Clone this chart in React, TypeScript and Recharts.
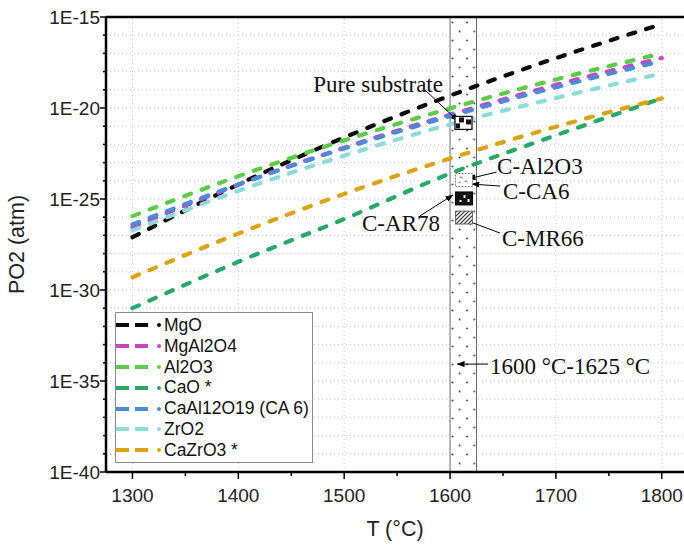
import React from 'react';
import {
  ComposedChart, Line, XAxis, YAxis, CartesianGrid, ReferenceLine, ReferenceArea, ReferenceDot, Legend,
} from 'recharts';

// temperatures (°C) and log10(PO2 / atm)
const temps = [1300, 1400, 1500, 1600, 1700, 1800];
const mgo = [-27.1, -24.2, -21.62, -19.32, -17.26, -15.39];
const mgal2o4 = [-26.55, -24.22, -22.18, -20.37, -18.73, -17.25];
const al2o3 = [-25.94, -23.75, -21.78, -20.02, -18.43, -17.0];
const cao = [-31.0, -28.45, -26.1, -23.6, -21.5, -19.47];
const ca6 = [-26.4, -24.2, -22.22, -20.45, -18.86, -17.42];
const zro2 = [-26.73, -24.55, -22.62, -20.9, -19.45, -18.1];
const cazro3 = [-29.3, -26.9, -24.72, -22.77, -21.03, -19.47];

const seriesNames = ['MgO', 'MgAl2O4', 'Al2O3', 'CaO *', 'CaAl12O19 (CA 6)', 'ZrO2', 'CaZrO3 *'];
const seriesValues = [mgo, mgal2o4, al2o3, cao, ca6, zro2, cazro3];
const seriesColors = ['#0a0a0a', '#c845c4', '#5ccc46', '#26a866', '#4a8ad8', '#8adcdc', '#dba214'];

const xTicks = [1300, 1350, 1400, 1450, 1500, 1550, 1600, 1650, 1700, 1750, 1800];
const xGrid = [1300, 1400, 1500, 1600, 1700, 1800];
const yTicks = Array.from({ length: 26 }, (_, i) => -40 + i);

// sample points inside the 1600-1625 °C window
const sampleT = [1612.7, 1613.2, 1613.2, 1613.2];
const sampleP = [-20.82, -23.96, -24.97, -26.02];
const sampleKinds = ['pure', 'al2o3', 'ar78', 'mr66'];

// annotation texts, anchored in data space
const noteText = ['Pure substrate', 'C-Al2O3', 'C-CA6', 'C-AR78', 'C-MR66', '1600 °C-1625 °C'];
const noteT = [1593.3, 1644.4, 1650.0, 1590.5, 1649.1, 1637.7];
const noteP = [-18.68, -23.2, -24.55, -26.32, -27.14, -34.18];
const noteAnchor = ['end', 'start', 'start', 'end', 'start', 'start'];

// leader lines: from [T, P] to [T, P] (arrow at the end)
const arrowFrom = [[1576.3, -19.01], [1644.0, -23.52], [1647.2, -24.29], [1571.6, -25.93], [1647.2, -26.87], [1635.9, -34.07]];
const arrowTo = [[1607.5, -20.71], [1616.9, -23.9], [1620.7, -24.18], [1602.8, -24.78], [1614.1, -26.15], [1606.6, -34.07]];

const data = temps.map((t, i) => {
  const row: any = { T: t };
  seriesNames.forEach((n, k) => { row[n] = seriesValues[k][i]; });
  return row;
});

const sans = '"Liberation Sans", Arial, sans-serif';
const serif = '"Liberation Serif", "Times New Roman", serif';

const XTick = (props: any) => {
  const { x, y, payload } = props;
  const major = payload.value % 100 === 0;
  return (
    <g>
      <line x1={x} y1={y} x2={x} y2={y + (major ? 7 : 4)} stroke="#000" strokeWidth={1.5} />
      {major && (
        <text x={x} y={y + 30} textAnchor="middle" fontSize={19} fontFamily={sans} fill="#222">{payload.value}</text>
      )}
    </g>
  );
};

const YTick = (props: any) => {
  const { x, y, payload } = props;
  const major = payload.value % 5 === 0;
  return (
    <g>
      <line x1={x - (major ? 6 : 3)} y1={y} x2={x} y2={y} stroke="#000" strokeWidth={1.5} />
      {major && (
        <text x={x - 6} y={y + 7} textAnchor="end" fontSize={19} fontFamily={sans} fill="#222">{`1E${payload.value}`}</text>
      )}
    </g>
  );
};

const SampleMarker = (props: any) => {
  const { cx, cy, kind } = props;
  const w = 17, h = 13;
  const x = cx - w / 2, y = cy - h / 2;
  if (kind === 'pure') {
    return (
      <g>
        <rect x={x} y={y} width={w} height={h} fill="#fff" stroke="#111" strokeWidth={1.3} />
        <rect x={x + 4} y={y + 1} width={5} height={5} fill="#111" />
        <rect x={x + 11} y={y + 3} width={5} height={5} fill="#111" />
        <rect x={x + 1} y={y + 7} width={4} height={5} fill="#111" />
      </g>
    );
  }
  if (kind === 'al2o3') {
    return (
      <g>
        <rect x={x} y={y} width={w} height={h} fill="#fff" stroke="#666" strokeWidth={0.8} strokeDasharray="2 1" />
        <path d={`M${x + 4},${y + 4} q2,-2 3,1 M${x + 9},${y + 8} q2,-2 3,1 M${x + 3},${y + 9} l2,0`} stroke="#555" strokeWidth={0.8} fill="none" />
      </g>
    );
  }
  if (kind === 'ar78') {
    return (
      <g>
        <rect x={x} y={y} width={w} height={h} fill="#111" stroke="#000" strokeWidth={1} />
        <rect x={x + 8} y={y + 3} width={2} height={3} fill="#fff" />
        <rect x={x + 12} y={y + 7} width={2} height={3} fill="#fff" />
        <rect x={x + 4} y={y + 8} width={2} height={2} fill="#fff" />
      </g>
    );
  }
  return (
    <g>
      <rect x={x} y={y} width={w} height={h} fill="url(#hatchPat)" stroke="#555" strokeWidth={0.8} />
    </g>
  );
};

const LegendBox = () => (
  <div style={{ border: '1px solid #8a8a8a', background: '#fff', padding: '2px 0 1px 0', width: 198, boxSizing: 'border-box' }}>
    {seriesNames.map((name, i) => (
      <div key={name} style={{ display: 'flex', alignItems: 'center', height: 20.8 }}>
        <svg width={48} height={12} style={{ flex: 'none' }}>
          <line x1={0} y1={6} x2={32} y2={6} stroke={seriesColors[i]} strokeWidth={4} strokeDasharray="13 6" />
          <circle cx={43} cy={6} r={2} fill={seriesColors[i]} />
        </svg>
        <span style={{ fontFamily: sans, fontSize: 17.5, color: '#111', whiteSpace: 'nowrap' }}>{name}</span>
      </div>
    ))}
  </div>
);

export default function App() {
  return (
    <div style={{ position: 'absolute', left: 0, top: 0, width: 684, height: 545, background: '#fff', overflow: 'hidden' }}>
      <ComposedChart width={684} height={545} data={data} margin={{ top: 17, right: 0, bottom: 0, left: 0 }}>
        <defs>
          <pattern id="dotsPat" width={14.5} height={18} patternUnits="userSpaceOnUse">
            <rect width={14.5} height={18} fill="#fff" />
            <circle cx={3} cy={4.5} r={0.9} fill="#333" />
            <circle cx={10.2} cy={13.5} r={0.9} fill="#333" />
          </pattern>
          <pattern id="hatchPat" width={4} height={4} patternUnits="userSpaceOnUse">
            <rect width={4} height={4} fill="#f2f2f2" />
            <path d="M-1,1 L1,-1 M0,4 L4,0 M3,5 L5,3" stroke="#333" strokeWidth={1.1} />
          </pattern>
          <marker id="arrowHead" markerWidth={8} markerHeight={6} refX={7.5} refY={3} orient="auto" markerUnits="userSpaceOnUse">
            <path d="M0,0 L8,3 L0,6 z" fill="#000" />
          </marker>
        </defs>
        <CartesianGrid vertical={false} stroke="#c4c4c4" strokeDasharray="1 3" />
        {xGrid.map((t) => (
          <ReferenceLine key={`g${t}`} x={t} stroke="#c4c4c4" strokeDasharray="1 3" />
        ))}
        <XAxis
          dataKey="T"
          type="number"
          domain={[1275, 1821]}
          allowDataOverflow
          ticks={xTicks}
          interval={0}
          tick={<XTick />}
          tickLine={false}
          tickSize={0}
          tickMargin={0}
          height={73}
          axisLine={{ stroke: '#000', strokeWidth: 2.5 }}
          label={{ value: 'T (°C)', position: 'insideBottom', offset: 9, style: { fontFamily: sans, fontSize: 21.5, fill: '#222' } }}
        />
        <YAxis
          type="number"
          domain={[-40, -15]}
          allowDataOverflow
          ticks={yTicks}
          interval={0}
          tick={<YTick />}
          tickLine={false}
          tickSize={0}
          tickMargin={0}
          width={106}
          axisLine={{ stroke: '#000', strokeWidth: 2.5 }}
          label={{ value: 'PO2 (atm)', angle: -90, position: 'insideLeft', offset: 16, style: { textAnchor: 'middle', fontFamily: sans, fontSize: 21.5, fill: '#222' } }}
        />
        <ReferenceArea x1={1600} x2={1625} fill="url(#dotsPat)" fillOpacity={1} stroke="#666" strokeWidth={1} />
        <ReferenceLine y={-15} stroke="#000" strokeWidth={2.5} />
        {seriesNames.map((n, i) => (
          <Line
            key={n}
            type="monotone"
            dataKey={n}
            stroke={seriesColors[i]}
            strokeWidth={4.2}
            strokeDasharray="7 11.5"
            strokeLinecap="round"
            dot={false}
            isAnimationActive={false}
          />
        ))}
        {sampleKinds.map((k, i) => (
          <ReferenceDot key={k} x={sampleT[i]} y={sampleP[i]} r={8} shape={(p: any) => <SampleMarker cx={p.cx} cy={p.cy} kind={k} />} />
        ))}
        {arrowFrom.map((a, i) => (
          <ReferenceLine
            key={`a${i}`}
            segment={[{ x: a[0], y: a[1] }, { x: arrowTo[i][0], y: arrowTo[i][1] }]}
            shape={(p: any) => (
              <line x1={p.x1} y1={p.y1} x2={p.x2} y2={p.y2} stroke="#000" strokeWidth={1} markerEnd="url(#arrowHead)" />
            )}
          />
        ))}
        {noteText.map((t, i) => (
          <ReferenceDot
            key={t}
            x={noteT[i]}
            y={noteP[i]}
            r={1}
            shape={(p: any) => (
              <text x={p.cx} y={p.cy} dy="0.34em" textAnchor={noteAnchor[i]} fontFamily={serif} fontSize={23} fill="#111">{t}</text>
            )}
          />
        ))}
        <Legend
          layout="vertical"
          align="center"
          verticalAlign="middle"
          content={LegendBox}
          wrapperStyle={{ left: 115, top: 312, width: 198 }}
        />
      </ComposedChart>
    </div>
  );
}
